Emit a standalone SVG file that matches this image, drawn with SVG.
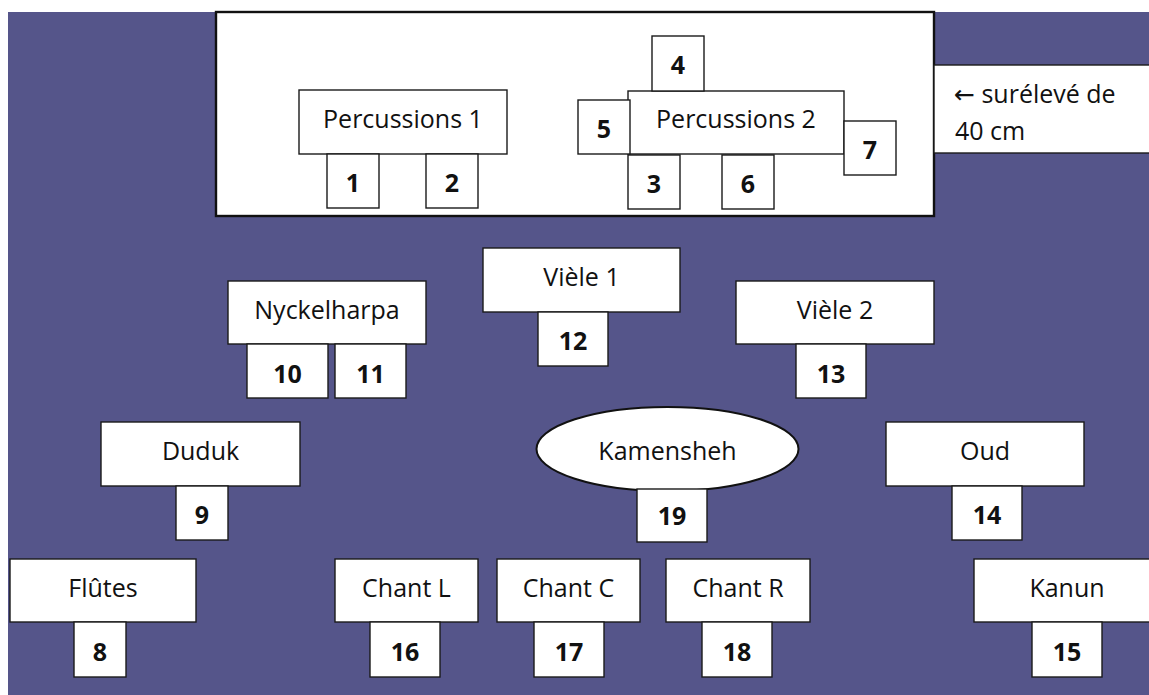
<svg xmlns="http://www.w3.org/2000/svg" width="1149" height="695" viewBox="0 0 1149 695">
<style>
.bx{fill:#ffffff;stroke:#1a1a1a;stroke-width:1.4}
.stage{fill:#ffffff;stroke:#111111;stroke-width:2.4}
.lb{font-family:"Open Sans","Liberation Sans",sans-serif;font-size:25px;fill:#111111;text-anchor:middle}
.nm{font-family:"Open Sans","Liberation Sans",sans-serif;font-size:25px;font-weight:bold;fill:#111111;text-anchor:middle}
.note{font-family:"Open Sans","DejaVu Sans","Liberation Sans",sans-serif;font-size:25px;fill:#111111}
</style>
<rect x="0" y="0" width="1149" height="695" fill="#ffffff"/>
<rect x="8" y="12" width="1141" height="683" fill="#55558a"/>
<g id="stage"><rect class="stage" x="216" y="12" width="718" height="204"/></g>
<g id="note"><rect class="bx" x="934" y="65" width="230" height="88"/>
<text class="note" x="954" y="103">← surélevé de</text>
<text class="note" x="955" y="140">40 cm</text></g>
<g id="connectors"/>
<g id="percussions1"><rect class="bx" x="299" y="90" width="208" height="64"/><text class="lb" x="403" y="127.5">Percussions 1</text></g>
<g id="n1"><rect class="bx" x="327" y="154" width="52" height="54"/><text class="nm" x="353" y="192">1</text></g>
<g id="n2"><rect class="bx" x="426" y="154" width="52" height="54"/><text class="nm" x="452" y="192">2</text></g>
<g id="percussions2"><rect class="bx" x="628" y="91" width="216" height="63"/><text class="lb" x="736" y="128">Percussions 2</text></g>
<g id="n4"><rect class="bx" x="652" y="36" width="52" height="55"/><text class="nm" x="678" y="73.5">4</text></g>
<g id="n5"><rect class="bx" x="578" y="100" width="52" height="54"/><text class="nm" x="604" y="138">5</text></g>
<g id="n7"><rect class="bx" x="844" y="121" width="52" height="54"/><text class="nm" x="870" y="159">7</text></g>
<g id="n3"><rect class="bx" x="628" y="155" width="52" height="54"/><text class="nm" x="654" y="193">3</text></g>
<g id="n6"><rect class="bx" x="722" y="155" width="52" height="54"/><text class="nm" x="748" y="193">6</text></g>
<g id="nyckelharpa"><rect class="bx" x="228" y="281" width="198" height="63"/><text class="lb" x="327" y="319">Nyckelharpa</text></g>
<g id="n10"><rect class="bx" x="247" y="344" width="81" height="54"/><text class="nm" x="287.5" y="383">10</text></g>
<g id="n11"><rect class="bx" x="335" y="344" width="71" height="54"/><text class="nm" x="370.5" y="383">11</text></g>
<g id="viele1"><rect class="bx" x="483" y="248" width="197" height="64"/><text class="lb" x="581.5" y="286">Vièle 1</text></g>
<g id="n12"><rect class="bx" x="538" y="312" width="70" height="54"/><text class="nm" x="573" y="350">12</text></g>
<g id="viele2"><rect class="bx" x="736" y="281" width="198" height="63"/><text class="lb" x="835" y="319">Vièle 2</text></g>
<g id="n13"><rect class="bx" x="796" y="344" width="70" height="54"/><text class="nm" x="831" y="383">13</text></g>
<g id="duduk"><rect class="bx" x="101" y="422" width="199" height="64"/><text class="lb" x="200.5" y="460">Duduk</text></g>
<g id="n9"><rect class="bx" x="176" y="486" width="52" height="54"/><text class="nm" x="202" y="524">9</text></g>
<g id="kamensheh"><ellipse cx="667.5" cy="449" rx="131" ry="42" fill="#ffffff" stroke="#111111" stroke-width="2"/><text class="lb" x="667.5" y="460">Kamensheh</text></g>
<g id="n19"><rect class="bx" x="637" y="489" width="70" height="53"/><text class="nm" x="672" y="525">19</text></g>
<g id="oud"><rect class="bx" x="886" y="422" width="198" height="64"/><text class="lb" x="985" y="460">Oud</text></g>
<g id="n14"><rect class="bx" x="952" y="486" width="70" height="54"/><text class="nm" x="987" y="523.5">14</text></g>
<g id="flutes"><rect class="bx" x="10" y="559" width="186" height="63"/><text class="lb" x="103" y="597">Flûtes</text></g>
<g id="n8"><rect class="bx" x="74" y="622" width="52" height="55"/><text class="nm" x="100" y="661">8</text></g>
<g id="chantL"><rect class="bx" x="335" y="559" width="143" height="63"/><text class="lb" x="406.5" y="597">Chant L</text></g>
<g id="n16"><rect class="bx" x="370" y="622" width="70" height="55"/><text class="nm" x="405" y="661">16</text></g>
<g id="chantC"><rect class="bx" x="497" y="559" width="143" height="63"/><text class="lb" x="568.5" y="597">Chant C</text></g>
<g id="n17"><rect class="bx" x="534" y="622" width="70" height="55"/><text class="nm" x="569" y="661">17</text></g>
<g id="chantR"><rect class="bx" x="666" y="559" width="144" height="63"/><text class="lb" x="738" y="597">Chant R</text></g>
<g id="n18"><rect class="bx" x="702" y="622" width="70" height="55"/><text class="nm" x="737" y="661">18</text></g>
<g id="kanun"><rect class="bx" x="974" y="559" width="186" height="63"/><text class="lb" x="1067" y="597">Kanun</text></g>
<g id="n15"><rect class="bx" x="1032" y="622" width="70" height="55"/><text class="nm" x="1067" y="661">15</text></g>
</svg>
